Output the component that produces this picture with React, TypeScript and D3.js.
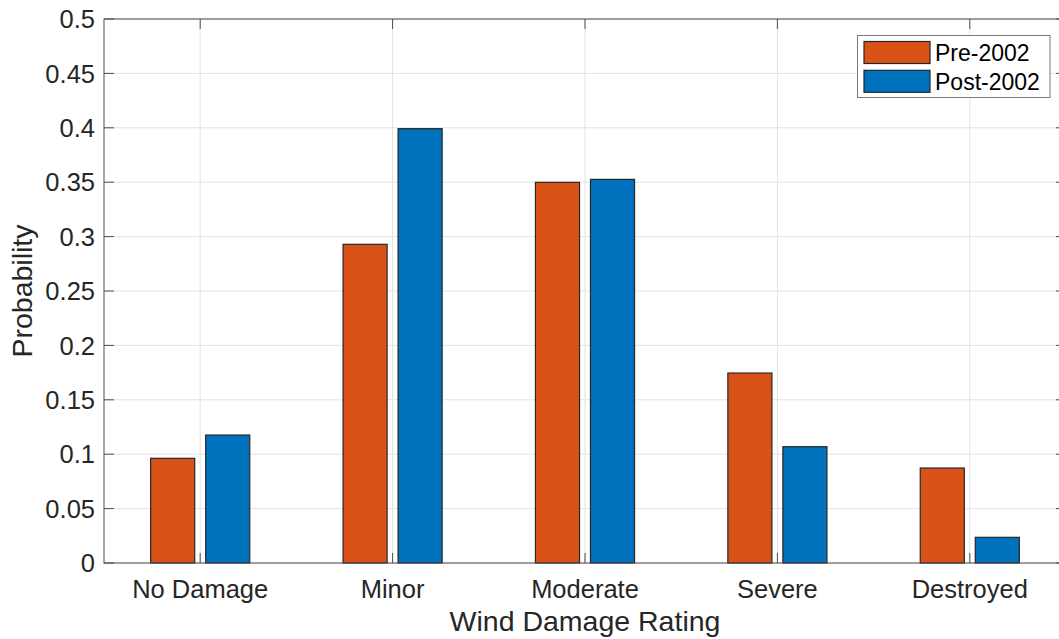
import { useEffect, useRef } from "react";
import * as d3 from "d3";

const categories = ["No Damage", "Minor", "Moderate", "Severe", "Destroyed"];
const pre2002 = [0.0962, 0.2929, 0.3499, 0.1746, 0.0873];
const post2002 = [0.1176, 0.3992, 0.3526, 0.1069, 0.0236];
const seriesNames = ["Pre-2002", "Post-2002"];
const seriesColors = ["#D95319", "#0072BD"];
const yTicks = [0, 0.05, 0.1, 0.15, 0.2, 0.25, 0.3, 0.35, 0.4, 0.45, 0.5];

export default function App() {
  const ref = useRef<SVGSVGElement>(null);

  useEffect(() => {
    if (!ref.current) return;
    const w = 1059,
      h = 639,
      margin = { top: 19, left: 104, bottom: 563, right: 1066 };
    const ink = "#262626";
    const font = "'Liberation Sans', Arial, Helvetica, sans-serif";

    const svg = d3.select(ref.current);
    svg.selectAll("*").remove();
    svg.attr("width", w).attr("height", h).attr("viewBox", `0 0 ${w} ${h}`);

    const x = d3.scaleLinear().domain([0.5, categories.length + 0.5]).range([margin.left, margin.right]);
    const y = d3.scaleLinear().domain([0, 0.5]).range([margin.bottom, margin.top]);

    // grid
    const grid = svg.append("g").attr("stroke", "#e3e3e3").attr("stroke-width", 1);
    yTicks.forEach((t) => {
      grid.append("line").attr("x1", margin.left).attr("x2", margin.right).attr("y1", y(t)).attr("y2", y(t));
    });
    categories.forEach((_, i) => {
      grid.append("line").attr("x1", x(i + 1)).attr("x2", x(i + 1)).attr("y1", margin.top).attr("y2", margin.bottom);
    });

    // bars
    const offset = 0.143,
      bw = 0.229;
    [pre2002, post2002].forEach((vals, s) => {
      svg
        .append("g")
        .selectAll("rect")
        .data(vals)
        .join("rect")
        .attr("x", (d, i) => x(i + 1 + (s === 0 ? -offset : offset) - bw / 2))
        .attr("width", x(bw) - x(0))
        .attr("y", (d) => y(d))
        .attr("height", (d) => y(0) - y(d))
        .attr("fill", seriesColors[s])
        .attr("stroke", ink)
        .attr("stroke-width", 1.2);
    });

    // box + ticks
    const axis = svg.append("g").attr("stroke", "#4d4d4d").attr("stroke-width", 1).attr("fill", "none");
    axis
      .append("rect")
      .attr("x", margin.left)
      .attr("y", margin.top)
      .attr("width", margin.right - margin.left)
      .attr("height", margin.bottom - margin.top);
    const tl = 10;
    yTicks.forEach((t) => {
      axis.append("line").attr("x1", margin.left).attr("x2", margin.left + tl).attr("y1", y(t)).attr("y2", y(t));
      axis.append("line").attr("x1", margin.right - tl).attr("x2", margin.right).attr("y1", y(t)).attr("y2", y(t));
    });
    categories.forEach((_, i) => {
      axis.append("line").attr("x1", x(i + 1)).attr("x2", x(i + 1)).attr("y1", margin.bottom).attr("y2", margin.bottom - tl);
      axis.append("line").attr("x1", x(i + 1)).attr("x2", x(i + 1)).attr("y1", margin.top).attr("y2", margin.top + tl);
    });

    // tick labels
    svg
      .append("g")
      .selectAll("text")
      .data(yTicks)
      .join("text")
      .attr("x", margin.left - 9)
      .attr("y", (d) => y(d))
      .attr("dy", "0.36em")
      .attr("text-anchor", "end")
      .attr("fill", ink)
      .attr("font-family", font)
      .attr("font-size", 25.5)
      .text((d) => String(d));

    svg
      .append("g")
      .selectAll("text")
      .data(categories)
      .join("text")
      .attr("x", (d, i) => x(i + 1))
      .attr("y", 589)
      .attr("dy", "0.36em")
      .attr("text-anchor", "middle")
      .attr("fill", ink)
      .attr("font-family", font)
      .attr("font-size", 25.5)
      .text((d) => d);

    svg
      .append("text")
      .attr("x", (margin.left + margin.right) / 2)
      .attr("y", 621)
      .attr("dy", "0.36em")
      .attr("text-anchor", "middle")
      .attr("fill", ink)
      .attr("font-family", font)
      .attr("font-size", 28.5)
      .text("Wind Damage Rating");

    svg
      .append("text")
      .attr("transform", `translate(22,${(margin.top + margin.bottom) / 2}) rotate(-90)`)
      .attr("dy", "0.36em")
      .attr("text-anchor", "middle")
      .attr("fill", ink)
      .attr("font-family", font)
      .attr("font-size", 28.5)
      .text("Probability");

    // legend
    const lg = svg.append("g");
    lg.append("rect")
      .attr("x", 857.5)
      .attr("y", 35.5)
      .attr("width", 192.5)
      .attr("height", 62)
      .attr("fill", "white")
      .attr("stroke", "#7a7a7a")
      .attr("stroke-width", 1);
    seriesNames.forEach((name, i) => {
      const cy = 52.5 + i * 28.8;
      lg.append("rect")
        .attr("x", 864)
        .attr("y", cy - 11)
        .attr("width", 66)
        .attr("height", 22)
        .attr("fill", seriesColors[i])
        .attr("stroke", ink)
        .attr("stroke-width", 1.2);
      lg.append("text")
        .attr("x", 935)
        .attr("y", cy)
        .attr("dy", "0.36em")
        .attr("fill", "#000")
        .attr("font-family", font)
        .attr("font-size", 23)
        .text(name);
    });
  }, []);

  return (
    <svg
      ref={ref}
      style={{ position: "absolute", left: 0, top: 0, display: "block", overflow: "hidden", background: "white" }}
    />
  );
}
